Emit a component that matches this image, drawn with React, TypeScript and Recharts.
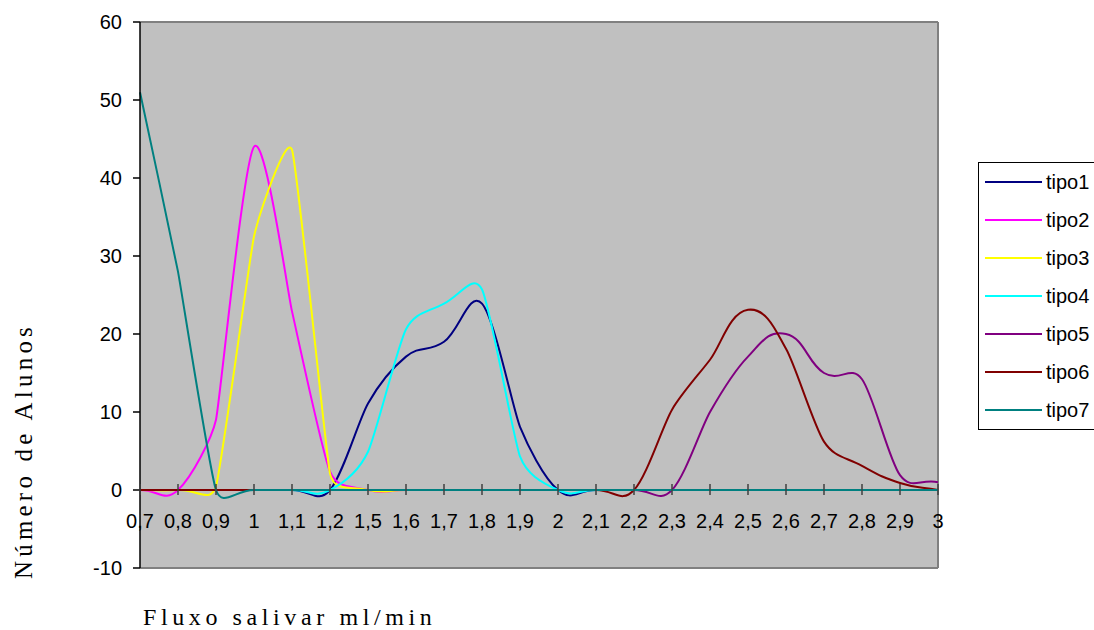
import { LineChart, Line, XAxis, YAxis, CartesianGrid, ReferenceLine, Legend } from 'recharts';

const CATEGORIES = ['0,7', '0,8', '0,9', '1', '1,1', '1,2', '1,5', '1,6', '1,7', '1,8', '1,9', '2', '2,1', '2,2', '2,3', '2,4', '2,5', '2,6', '2,7', '2,8', '2,9', '3'];

const TIPO1 = [0, 0, 0, 0, 0, 0, 11.1, 17.1, 19.0, 23.9, 8.1, 0, 0, 0, 0, 0, 0, 0, 0, 0, 0, 0];
const TIPO2 = [0, 0, 9.0, 44.0, 22.9, 2.35, 0, 0, 0, 0, 0, 0, 0, 0, 0, 0, 0, 0, 0, 0, 0, 0];
const TIPO3 = [0, 0, 0.5, 32.5, 43.6, 2.1, 0, 0, 0, 0, 0, 0, 0, 0, 0, 0, 0, 0, 0, 0, 0, 0];
const TIPO4 = [0, 0, 0, 0, 0, 0, 4.9, 20.6, 23.9, 25.7, 4.3, 0, 0, 0, 0, 0, 0, 0, 0, 0, 0, 0];
const TIPO5 = [0, 0, 0, 0, 0, 0, 0, 0, 0, 0, 0, 0, 0, 0, 0, 10.0, 17.1, 20.0, 15.0, 14.2, 1.9, 1.0];
const TIPO6 = [0, 0, 0, 0, 0, 0, 0, 0, 0, 0, 0, 0, 0, 0, 10.3, 16.7, 23.1, 18.1, 6.2, 3.1, 0.9, 0];
const TIPO7 = [51.0, 28.0, 0, 0, 0, 0, 0, 0, 0, 0, 0, 0, 0, 0, 0, 0, 0, 0, 0, 0, 0, 0];

const Y_TICKS = [-10, 0, 10, 20, 30, 40, 50, 60];

const SERIES = [
  { key: 'tipo1', color: '#000080', values: TIPO1 },
  { key: 'tipo2', color: '#FF00FF', values: TIPO2 },
  { key: 'tipo3', color: '#FFFF00', values: TIPO3 },
  { key: 'tipo4', color: '#00FFFF', values: TIPO4 },
  { key: 'tipo5', color: '#800080', values: TIPO5 },
  { key: 'tipo6', color: '#800000', values: TIPO6 },
  { key: 'tipo7', color: '#008080', values: TIPO7 },
];

const data = CATEGORIES.map((cat, i) => {
  const row: Record<string, any> = { cat };
  SERIES.forEach((s) => { row[s.key] = s.values[i]; });
  return row;
});

// layout
const W = 1094;
const H = 630;
const TOP = 22;
const RIGHT = 156;
const Y_AXIS_W = 140;
const X_AXIS_H = 62;
const PLOT_H = H - TOP - X_AXIS_H;
const ZERO_Y = TOP + PLOT_H * (60 / 70);

const SANS = '"Liberation Sans", Arial, sans-serif';
const SERIF = '"Liberation Serif", "Times New Roman", serif';

// Excel-like smoothed line: bezier with tangents along neighbour direction
const SMOOTH = 0.5;
function excelCurve(ctx: any) {
  let pts: number[][] = [];
  return {
    areaStart() {},
    areaEnd() {},
    lineStart() { pts = []; },
    point(x: number, y: number) { pts.push([+x, +y]); },
    lineEnd() {
      const n = pts.length;
      if (!n) return;
      ctx.moveTo(pts[0][0], pts[0][1]);
      if (n === 1) return;
      const tan = pts.map((_, i) => {
        const a = pts[Math.max(0, i - 1)];
        const b = pts[Math.min(n - 1, i + 1)];
        const dx = b[0] - a[0];
        const dy = b[1] - a[1];
        const len = Math.hypot(dx, dy) || 1;
        return [dx / len, dy / len];
      });
      for (let i = 0; i < n - 1; i++) {
        const p = pts[i];
        const q = pts[i + 1];
        const h = (q[0] - p[0]) * SMOOTH;
        ctx.bezierCurveTo(
          p[0] + tan[i][0] * h, p[1] + tan[i][1] * h,
          q[0] - tan[i + 1][0] * h, q[1] - tan[i + 1][1] * h,
          q[0], q[1],
        );
      }
    },
  };
}

function XTick(props: any) {
  const x = props.payload?.coordinate ?? props.x;
  return (
    <g>
      <line x1={x} x2={x} y1={ZERO_Y - 6} y2={ZERO_Y + 5} stroke="#404040" strokeWidth={1.5} />
      <text x={x} y={ZERO_Y + 38} textAnchor="middle" fontSize={20} fontFamily={SANS} fill="#000">
        {props.payload.value}
      </text>
    </g>
  );
}

function YTitle() {
  return (
    <text transform="translate(32,451) rotate(-90)" textAnchor="middle" fontSize={25} fontFamily={SERIF} letterSpacing={4.2} fill="#000">
      Número de Alunos
    </text>
  );
}

function XTitle() {
  return (
    <text x={143} y={625} fontSize={24} fontFamily={SERIF} letterSpacing={4.6} fill="#000">
      Fluxo salivar ml/min
    </text>
  );
}

function LegendBox({ payload }: any) {
  return (
    <div style={{ width: 130, height: 268, border: '1px solid #000', background: '#fff', boxSizing: 'border-box' }}>
      {(payload || []).map((e: any) => (
        <div key={e.value} style={{ height: 38, display: 'flex', alignItems: 'center' }}>
          <span style={{ display: 'inline-block', width: 57, height: 2, marginLeft: 6, background: e.color }} />
          <span style={{ marginLeft: 4, fontFamily: SANS, fontSize: 20, color: '#000', lineHeight: '20px' }}>{e.value}</span>
        </div>
      ))}
    </div>
  );
}

export default function App() {
  return (
    <div style={{ position: 'absolute', left: 0, top: 0, width: W, height: H, background: '#fff' }}>
      <LineChart width={W} height={H} data={data} margin={{ top: TOP, right: RIGHT, bottom: 0, left: 0 }}>
        <CartesianGrid fill="#C0C0C0" fillOpacity={1} horizontal={false} vertical={false} stroke="none" />
        <ReferenceLine y={60} stroke="#808080" strokeWidth={2} />
        <ReferenceLine y={-10} stroke="#808080" strokeWidth={2} />
        <ReferenceLine x="3" stroke="#808080" strokeWidth={2} />
        <ReferenceLine y={0} stroke="#000" strokeWidth={1} />
        <XAxis
          dataKey="cat"
          interval={0}
          height={X_AXIS_H}
          axisLine={false}
          tickLine={false}
          tick={(p: any) => <XTick {...p} />}
          label={<XTitle />}
        />
        <YAxis
          width={Y_AXIS_W}
          domain={[-10, 60]}
          ticks={Y_TICKS}
          interval={0}
          tickSize={7}
          tickMargin={11}
          axisLine={{ stroke: '#000', strokeWidth: 1.5 }}
          tickLine={{ stroke: '#000', strokeWidth: 1.5 }}
          tick={{ fontSize: 20, fill: '#000', fontFamily: SANS }}
          label={<YTitle />}
        />
        {SERIES.map((s) => (
          <Line
            key={s.key}
            dataKey={s.key}
            name={s.key}
            type={excelCurve as any}
            stroke={s.color}
            strokeWidth={2}
            dot={false}
            activeDot={false}
            isAnimationActive={false}
          />
        ))}
        <Legend
          layout="horizontal"
          verticalAlign="middle"
          align="center"
          content={<LegendBox />}
          wrapperStyle={{ left: 978, top: 162, right: 'auto', bottom: 'auto', width: 130 }}
        />
      </LineChart>
    </div>
  );
}
